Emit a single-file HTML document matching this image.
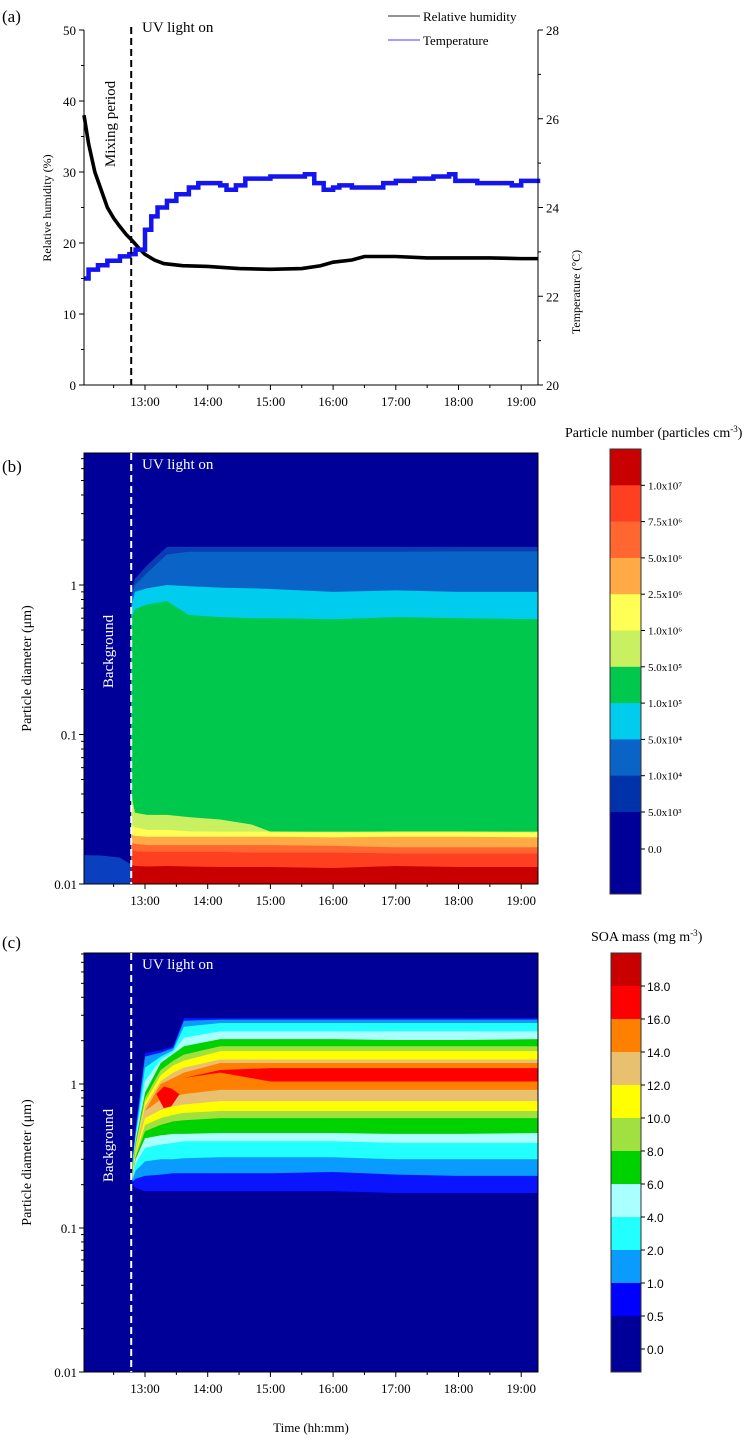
<!DOCTYPE html>
<html><head><meta charset="utf-8"><style>
body{margin:0;background:#fff}
svg text{font-family:"Liberation Serif",serif;fill:#000}
</style></head><body>
<svg id="fig" width="748" height="1441" viewBox="0 0 748 1441" xmlns="http://www.w3.org/2000/svg"></svg>
<script>
// ---------- panel a data ----------
const rhTimes=[12.02,12.1,12.2,12.3,12.4,12.5,12.6,12.7,12.8,12.9,13.0,13.15,13.3,13.6,14.0,14.5,15.0,15.5,15.8,16.0,16.3,16.5,17.0,17.5,18.0,18.5,19.0,19.27];
const rhValues=[38,34,30,27.5,25,23.5,22.3,21.2,20.3,19.3,18.4,17.6,17.1,16.8,16.7,16.4,16.3,16.4,16.8,17.3,17.6,18.1,18.1,17.9,17.9,17.9,17.8,17.8];
const tTimes=[12.02,12.1,12.25,12.4,12.6,12.75,12.85,13.0,13.1,13.2,13.35,13.5,13.7,13.85,14.2,14.3,14.45,14.6,15.0,15.55,15.7,15.85,16.0,16.1,16.3,16.6,16.8,17.0,17.3,17.6,17.85,17.95,18.3,18.7,18.85,19.0,19.27];
const tValues=[22.4,22.6,22.7,22.8,22.9,22.95,23.05,23.5,23.8,24.0,24.15,24.3,24.45,24.55,24.5,24.4,24.5,24.65,24.7,24.75,24.55,24.4,24.45,24.5,24.45,24.45,24.55,24.6,24.65,24.7,24.75,24.6,24.55,24.55,24.5,24.6,24.65];
// ---------- panel b data (upper boundary diameter, µm) ----------
const bTimes=[12.78,12.84,13.03,13.35,13.7,14.2,14.7,15.0,16.0,17.0,18.0,19.27];
const bLevels=["5.0x10³","1.0x10⁴","5.0x10⁴","1.0x10⁵","5.0x10⁵","1.0x10⁶","2.5x10⁶","5.0x10⁶","7.5x10⁶","1.0x10⁷"];
const bUpper=[
 [0.9,1.1,1.35,1.8,1.8,1.8,1.8,1.8,1.8,1.8,1.8,1.8],
 [0.8,1.0,1.2,1.6,1.67,1.67,1.67,1.67,1.67,1.67,1.68,1.68],
 [0.7,0.9,0.95,1.0,0.98,0.96,0.95,0.94,0.9,0.92,0.9,0.9],
 [0.6,0.69,0.74,0.78,0.63,0.61,0.6,0.6,0.59,0.61,0.6,0.59],
 [0.04,0.03,0.029,0.029,0.028,0.027,0.025,0.0224,0.0224,0.0224,0.0224,0.0224],
 [0.025,0.024,0.023,0.023,0.0225,0.0224,0.0224,0.0224,0.0222,0.0224,0.0224,0.0222],
 [0.0215,0.021,0.0207,0.0207,0.0207,0.0207,0.0207,0.0207,0.0205,0.0207,0.0207,0.0205],
 [0.019,0.0185,0.0182,0.0182,0.0182,0.0182,0.0182,0.0182,0.018,0.0176,0.0176,0.0176],
 [0.017,0.0166,0.0164,0.0164,0.0164,0.0164,0.0162,0.0162,0.0162,0.016,0.016,0.016],
 [0.0135,0.0132,0.0131,0.0132,0.0131,0.013,0.013,0.013,0.0128,0.0132,0.013,0.013]];
const bColors=["#0a3cb4","#0a64c8","#00ccee","#00c84c","#c8f060","#ffff55","#ffaa44","#ff6630","#ff4020","#c80000"];
const bBarLabels=["1.0x10⁷","7.5x10⁶","5.0x10⁶","2.5x10⁶","1.0x10⁶","5.0x10⁵","1.0x10⁵","5.0x10⁴","1.0x10⁴","5.0x10³"];
const bBarColors=["#c80000","#ff4020","#ff6630","#ffaa44","#ffff55","#c8f060","#00c84c","#00ccee","#0a64c8","#0033aa","#000099"];
const bgPatchTimes=[12.02,12.3,12.6,12.78];
const bgPatchUpper=[0.0156,0.0155,0.015,0.0135];
// ---------- panel c data (band lower/upper diameter, µm) ----------
const cTimes=[12.8,12.85,13.0,13.25,13.45,13.62,14.2,15,16,17,18,19.27];
const cNames=["0.5","1.0","2.0","4.0","6.0","8.0","10.0","12.0","14.0","16.0"];
const cUpper=[
 [0.3,0.5,1.64,1.72,1.83,2.87,2.87,2.87,2.87,2.87,2.87,2.87],
 [0.29,0.47,1.55,1.65,1.78,2.75,2.8,2.8,2.8,2.8,2.8,2.8],
 [0.28,0.44,1.3,1.55,1.72,2.5,2.65,2.65,2.65,2.65,2.65,2.65],
 [0.27,0.42,1.05,1.47,1.67,2.1,2.32,2.32,2.32,2.32,2.32,2.32],
 [0.26,0.4,0.87,1.4,1.62,1.83,2.05,2.05,2.05,2.02,2.02,2.05],
 [0.25,0.38,0.8,1.25,1.45,1.6,1.83,1.83,1.83,1.83,1.83,1.83],
 [0.24,0.36,0.75,1.15,1.35,1.45,1.69,1.69,1.69,1.69,1.69,1.69],
 [0.23,0.35,0.7,1.05,1.2,1.3,1.48,1.48,1.48,1.48,1.48,1.48],
 [0.22,0.34,0.65,1.0,1.1,1.2,1.4,1.4,1.4,1.4,1.4,1.4],
 [1.1,1.1,1.1,1.1,1.1,1.1,1.25,1.29,1.29,1.29,1.29,1.29]];
const cLower=[
 [0.2,0.19,0.18,0.18,0.18,0.18,0.18,0.18,0.18,0.175,0.175,0.175],
 [0.21,0.22,0.23,0.235,0.24,0.24,0.24,0.24,0.245,0.235,0.23,0.23],
 [0.215,0.25,0.29,0.3,0.3,0.305,0.31,0.31,0.31,0.3,0.3,0.3],
 [0.22,0.28,0.36,0.38,0.39,0.4,0.4,0.4,0.4,0.39,0.39,0.39],
 [0.22,0.3,0.42,0.44,0.45,0.45,0.457,0.457,0.457,0.45,0.45,0.457],
 [0.22,0.31,0.47,0.52,0.55,0.56,0.58,0.58,0.58,0.58,0.58,0.58],
 [0.22,0.32,0.52,0.58,0.61,0.63,0.65,0.65,0.65,0.65,0.65,0.65],
 [0.22,0.33,0.58,0.66,0.7,0.72,0.76,0.76,0.76,0.76,0.76,0.76],
 [0.22,0.34,0.65,0.78,0.82,0.85,0.91,0.91,0.91,0.91,0.91,0.91],
 [1.1,1.1,1.1,1.1,1.1,1.1,1.2,1.04,1.04,1.04,1.04,1.04]];
const cColors=["#0a14ff","#0a9bff","#22ffff","#aaffff","#00d200","#a0e040","#ffff00","#e8c070","#ff8000","#ff0000"];
const blobTimes=[13.18,13.3,13.42,13.55];
const blobLower=[0.85,0.68,0.7,0.85];
const blobUpper=[0.85,0.96,0.93,0.85];
const cBarLabels=["18.0","16.0","14.0","12.0","10.0","8.0","6.0","4.0","2.0","1.0","0.5","0.0"];
const cBarColors=["#c80000","#ff0000","#ff8000","#e8c070","#ffff00","#a0e040","#00d200","#aaffff","#22ffff","#0a9bff","#0000ff","#000099","#000099"];
const hourTicks=[13,14,15,16,17,18,19];
const hourLabels=["13:00","14:00","15:00","16:00","17:00","18:00","19:00"];

// ---------- helpers ----------
const NS="http://www.w3.org/2000/svg", svg=document.getElementById('fig');
function el(tag,attrs,parent){const e=document.createElementNS(NS,tag);for(const k in attrs)e.setAttribute(k,attrs[k]);(parent||svg).appendChild(e);return e;}
function txt(s,x,y,size,opts,parent){const t=el('text',Object.assign({x:x,y:y,'font-size':size},opts||{}),parent);t.textContent=s;return t;}
const X0=84,X1=538;
const xT=t=>Math.min(X1,Math.max(X0,145+(t-13)*62.7));
const tUV=12.78;

// ---------- panel (a) ----------
const ga=el('g',{});


const aTop=30,aBot=385;
const yRH=v=>aBot-(v/50)*(aBot-aTop);
const yT=v=>aBot-((v-20)/8)*(aBot-aTop);
txt('(a)',2,22,17,{},ga);
const rhLine=el('polyline',{points:rhTimes.map((t,i)=>xT(t)+','+yRH(rhValues[i])).join(' '),fill:'none',stroke:'#000','stroke-width':3.6},ga);


let tp=[];tTimes.forEach((t,i)=>{if(i>0)tp.push(xT(t)+','+yT(tValues[i-1]));tp.push(xT(t)+','+yT(tValues[i]));});
const tLine=el('polyline',{points:tp.join(' '),fill:'none',stroke:'#1414f0','stroke-width':4.5},ga);


el('line',{x1:X0,y1:aTop,x2:X0,y2:aBot,stroke:'#000'},ga);
el('line',{x1:X1,y1:aTop,x2:X1,y2:aBot,stroke:'#000'},ga);
el('line',{x1:X0,y1:aBot,x2:X1,y2:aBot,stroke:'#000'},ga);
for(let v=0;v<=50;v+=5){el('line',{x1:X0-(v%10?3:5),y1:yRH(v),x2:X0,y2:yRH(v),stroke:'#000'},ga);if(v%10==0)txt(String(v),X0-8,yRH(v)+5,13,{'text-anchor':'end'},ga);}
for(let v=20;v<=28;v+=1){el('line',{x1:X1,y1:yT(v),x2:X1+(v%2?3:5),y2:yT(v),stroke:'#000'},ga);if(v%2==0)txt(String(v),X1+8,yT(v)+5,13,{},ga);}
for(let h=12.5;h<=19.01;h+=0.5){el('line',{x1:xT(h),y1:aBot,x2:xT(h),y2:aBot+(h%1?3:5),stroke:'#000'},ga);}
hourTicks.forEach((h,i)=>txt(hourLabels[i],xT(h),aBot+21,13,{'text-anchor':'middle'},ga));
const ra=txt('Relative humidity (%)',0,0,12,{'text-anchor':'middle',transform:'translate(51,208) rotate(-90)'},ga);

const ta=txt('Temperature (°C)',0,0,12,{'text-anchor':'middle',transform:'translate(580,292) rotate(-90)'},ga);

el('line',{x1:xT(tUV),y1:aTop-3,x2:xT(tUV),y2:aBot,stroke:'#000','stroke-width':2,'stroke-dasharray':'7,4'},ga);
txt('UV light on',142,32,15,{},ga);
txt('Mixing period',0,0,15,{'text-anchor':'middle',transform:'translate(115,124) rotate(-90)'},ga);
const lg=el('g',{},ga);
el('line',{x1:388,y1:16,x2:420,y2:16,stroke:'#555','stroke-width':1.2},lg);txt('Relative humidity',423,21,13,{},lg);
el('line',{x1:388,y1:40,x2:420,y2:40,stroke:'#66f','stroke-width':1.2},lg);txt('Temperature',423,45,13,{},lg);

// ---------- heatmap panels ----------
function heatPanel(name,top,bot,dec,drawContours,labelPanel,labelY,showTimeTitle){
  const g=el('g',{});
  const y=d=>bot-(Math.log10(d)+2)*dec;
  el('rect',{x:X0,y:top,width:X1-X0,height:bot-top,fill:'#000099'},g);
  drawContours(g,y);
  el('rect',{x:X0,y:top,width:X1-X0,height:bot-top,fill:'none',stroke:'#000'},g);
  [0.01,0.1,1].forEach(d=>{el('line',{x1:X0-5,y1:y(d),x2:X0,y2:y(d),stroke:'#000'},g);txt(String(d),X0-7,y(d)+5,13,{'text-anchor':'end'},g);});
  for(let e=-2;e<=0;e++)for(let m=2;m<=9;m++){const d=m*Math.pow(10,e);if(y(d)>top)el('line',{x1:X0-3,y1:y(d),x2:X0,y2:y(d),stroke:'#000'},g);}
  for(let h=12.5;h<=19.01;h+=0.5)el('line',{x1:xT(h),y1:bot,x2:xT(h),y2:bot+(h%1?3:5),stroke:'#000'},g);
  hourTicks.forEach((h,i)=>txt(hourLabels[i],xT(h),bot+21,13,{'text-anchor':'middle'},g));
  el('line',{x1:xT(tUV),y1:top,x2:xT(tUV),y2:bot,stroke:'#fff','stroke-width':2,'stroke-dasharray':'7,4'},g);
  txt('UV light on',142,top+16,15,{style:'fill:#fff'},g);
  txt('Background',0,0,15,{'text-anchor':'middle',style:'fill:#fff',transform:`translate(113,${(top+bot)/2-17}) rotate(-90)`},g);
  txt('Particle diameter (μm)',0,0,14,{'text-anchor':'middle',transform:`translate(31,${(top+bot)/2}) rotate(-90)`},g);
  txt(labelPanel,2,labelY,17,{},g);
  if(showTimeTitle)txt('Time (hh:mm)',311,bot+60,13,{'text-anchor':'middle'},g);
  return g;
}
function poly(g,pts,color){return el('polygon',{points:pts.join(' '),fill:color},g);}
function band(g,y,times,lo,hi,color){
  const pts=[];
  times.forEach((t,i)=>pts.push(xT(t)+','+y(hi[i])));
  for(let i=times.length-1;i>=0;i--)pts.push(xT(times[i])+','+y(lo[i]));
  return poly(g,pts,color);
}
// panel b
const gb=heatPanel('panel-b',453,884,149.5,(g,y)=>{
  const pp=band(g,y,bgPatchTimes,bgPatchTimes.map(()=>0.01),bgPatchUpper,'#0a40c0');
  
  
  bUpper.forEach((row,li)=>{
    const p=band(g,y,bTimes,bTimes.map(()=>0.01),row,bColors[li]);
    
    
  });
},'(b)',472,false);
// colorbar b
const cbB=el('g',{});
{const top=449,h=36.3,bot=894;
 bBarColors.forEach((c,i)=>{const y0=top+i*h,y1=i==bBarColors.length-1?bot:y0+h;el('rect',{x:610,y:y0,width:31,height:y1-y0+0.5,fill:c},cbB);});
 el('rect',{x:610,y:top,width:31,height:bot-top,fill:'none',stroke:'#333'},cbB);
 bBarLabels.forEach((l,i)=>{const yy=top+(i+1)*h;el('line',{x1:641,y1:yy,x2:645,y2:yy,stroke:'#000'},cbB);txt(l,648,yy+4,11,{},cbB);});
 el('line',{x1:641,y1:849,x2:645,y2:849,stroke:'#000'},cbB);txt('0.0',648,853,11,{},cbB);
 const tt=el('text',{x:565,y:437,'font-size':14},cbB);tt.innerHTML='Particle number (particles cm<tspan dy="-5" font-size="9">-3</tspan><tspan dy="5">)</tspan>';}
// panel c
heatPanel('panel-c',953,1372,144,(g,y)=>{
  cUpper.forEach((row,li)=>{
    const p=band(g,y,cTimes,cLower[li],row,cColors[li]);
    
    
  });
  const b=band(g,y,blobTimes,blobLower,blobUpper,'#ff0000');
  
  
},'(c)',948,true);
const cbC=el('g',{});
{const top=953,h=33,bot=1372;
 cBarColors.forEach((c,i)=>{const y0=top+i*h,y1=Math.min(bot,y0+h);if(y1>y0)el('rect',{x:611,y:y0,width:30,height:y1-y0+0.5,fill:c},cbC);});
 el('rect',{x:611,y:top,width:30,height:bot-top,fill:'none',stroke:'#333'},cbC);
 cBarLabels.forEach((l,i)=>{const yy=top+(i+1)*h;el('line',{x1:641,y1:yy,x2:645,y2:yy,stroke:'#000'},cbC);txt(l,647,yy+5,12,{style:'font-family:"Liberation Sans",sans-serif'},cbC);});
 const tt=el('text',{x:591,y:941,'font-size':14},cbC);tt.innerHTML='SOA mass (mg m<tspan dy="-5" font-size="9">-3</tspan><tspan dy="5">)</tspan>';}
</script>
</body></html>
